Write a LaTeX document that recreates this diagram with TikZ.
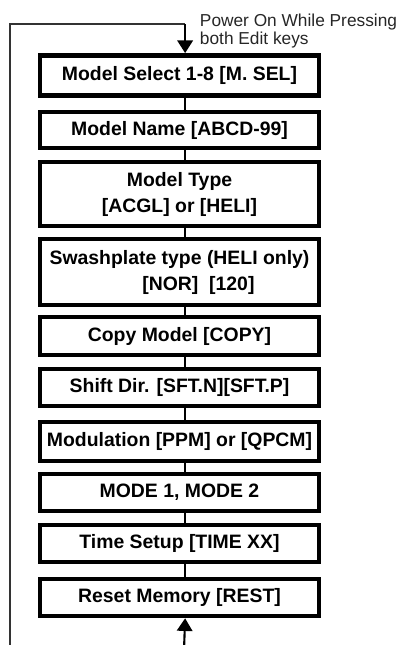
\documentclass[tikz,border=0pt]{standalone}
\usepackage{fontspec}
\setmainfont{Liberation Sans}
\usetikzlibrary{arrows.meta, positioning}

\begin{document}
\begin{tikzpicture}[
  x=0.025cm, y=-0.025cm,
  menubox/.style={rectangle, draw=black, line width=3.4pt, fill=white,
    minimum width=6.975cm, minimum height=#1, inner xsep=1pt,
    font=\fontsize{13.8}{18.5}\selectfont\bfseries, align=center},
  menubox/.default=0.95cm,
  link/.style={line width=1.5pt, draw=black},
  loopline/.style={line width=1.2pt, draw=black!80},
  bigarrow/.style={-{Triangle[length=9pt, width=11pt]}},
  note/.style={font=\fontsize{12.3}{12.5}\selectfont, align=left, text=black!85},
]
\useasboundingbox (0,0) rectangle (406,645);

% Menu chain
\node[menubox=1.0cm]  (msel)  at (179.5, 75.5) {Model Select 1-8 [M. SEL]};
\node[menubox=0.9cm]  (mname) at (179.5, 130)  {Model Name [ABCD-99]};
\node[menubox=1.6cm]  (mtype) at (179.5, 194)  {Model Type\\{}[ACGL] or [HELI]};
\node[menubox=1.65cm, align=left] (swash) at (179.5, 272)
  {Swashplate type (HELI only)\\\hspace*{66pt}[NOR]~~[120]};
\node[menubox=0.95cm] (mcopy) at (179.5, 336)  {Copy Model [COPY]};
\node[menubox=0.92cm] (shift) at (179.5, 387.5){Shift Dir. [SFT.N][SFT.P]};
\node[menubox=0.97cm] (modul) at (179.5, 441.5){Modulation [PPM] or [QPCM]};
\node[menubox=0.92cm] (mode)  at (179.5, 492.5){MODE 1, MODE 2};
\node[menubox=0.92cm] (timer) at (179.5, 543.5){Time Setup [TIME XX]};
\node[menubox=0.92cm] (reset) at (179.5, 597.5){Reset Memory [REST]};

\draw[link] ([xshift=4pt]msel.south)  -- ([xshift=4pt]mname.north);
\draw[link] ([xshift=4pt]mname.south) -- ([xshift=4pt]mtype.north);
\draw[link] ([xshift=4pt]mtype.south) -- ([xshift=4pt]swash.north);
\draw[link] ([xshift=4pt]swash.south) -- ([xshift=4pt]mcopy.north);
\draw[link] ([xshift=4pt]mcopy.south) -- ([xshift=4pt]shift.north);
\draw[link] ([xshift=4pt]shift.south) -- ([xshift=4pt]modul.north);
\draw[link] ([xshift=4pt]modul.south) -- ([xshift=4pt]mode.north);
\draw[link] ([xshift=4pt]mode.south)  -- ([xshift=4pt]timer.north);
\draw[link] ([xshift=4pt]timer.south) -- ([xshift=4pt]reset.north);

% Power-on entry and loop back
\coordinate (corner) at (10, 24);
\coordinate (loopend) at (10, 650);
\coordinate (turn) at ([xshift=4pt]msel.north |- corner);
\coordinate (entry) at (184, 650);
\node[note, anchor=north west] (power) at (195, 9) {Power On While Pressing\\both Edit keys};

\draw[loopline] (loopend) -- (corner) -- (turn);
\draw[link, bigarrow] (turn) -- ([xshift=4pt]msel.north);
\draw[link, bigarrow] (entry) -- ([xshift=4pt]reset.south);

\end{tikzpicture}
\end{document}
